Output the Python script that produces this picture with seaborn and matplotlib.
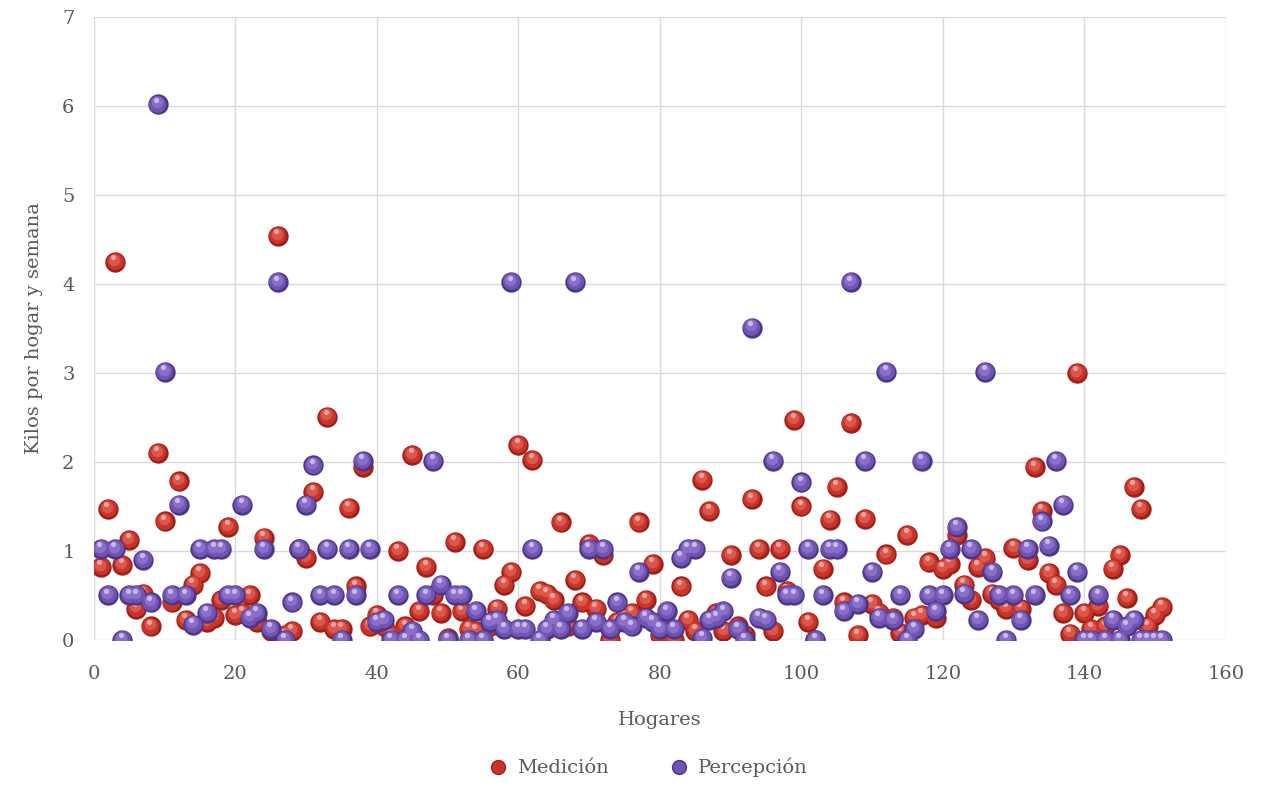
import matplotlib
matplotlib.use("Agg")
import matplotlib.pyplot as plt
import matplotlib.transforms as mtransforms
from matplotlib.lines import Line2D
import pandas as pd
import seaborn as sns

# Household index 1..151
hogares = list(range(1, 152))

medicion = [
    0.82, 1.47, 4.25, 0.84, 1.12, 0.35, 0.52, 0.15, 2.10, 1.33,
    0.42, 1.78, 0.22, 0.62, 0.75, 0.20, 0.25, 0.45, 1.27, 0.28,
    0.30, 0.50, 0.20, 1.15, 0.10, 4.54, 0.05, 0.10, 1.02, 0.92,
    1.66, 0.20, 2.51, 0.12, 0.12, 1.48, 0.60, 1.94, 0.15, 0.28,
    0.15, 0.05, 1.00, 0.15, 2.08, 0.32, 0.82, 0.50, 0.30, 0.02,
    1.10, 0.32, 0.12, 0.10, 1.02, 0.15, 0.35, 0.62, 0.76, 2.19,
    0.38, 2.02, 0.55, 0.52, 0.45, 1.32, 0.15, 0.67, 0.42, 1.08,
    0.35, 0.95, 0.00, 0.20, 0.25, 0.30, 1.32, 0.45, 0.85, 0.05,
    0.15, 0.00, 0.60, 0.22, 0.10, 1.80, 1.45, 0.30, 0.10, 0.95,
    0.15, 0.05, 1.58, 1.02, 0.60, 0.10, 1.02, 0.55, 2.47, 1.50,
    0.20, 0.00, 0.80, 1.35, 1.72, 0.42, 2.44, 0.05, 1.36, 0.40,
    0.30, 0.96, 0.25, 0.08, 1.18, 0.25, 0.28, 0.87, 0.25, 0.80,
    0.85, 1.18, 0.62, 0.45, 0.82, 0.92, 0.52, 0.45, 0.35, 1.03,
    0.35, 0.90, 1.94, 1.45, 0.75, 0.62, 0.30, 0.07, 3.00, 0.30,
    0.12, 0.38, 0.15, 0.80, 0.95, 0.47, 1.72, 1.47, 0.15, 0.28,
    0.37,
]

percepcion = [
    1.02, 0.50, 1.02, 0.00, 0.50, 0.50, 0.90, 0.42, 6.02, 3.01,
    0.50, 1.52, 0.50, 0.17, 1.02, 0.30, 1.02, 1.02, 0.50, 0.50,
    1.52, 0.25, 0.30, 1.02, 0.12, 4.02, 0.00, 0.42, 1.02, 1.52,
    1.96, 0.50, 1.02, 0.50, 0.00, 1.02, 0.50, 2.01, 1.02, 0.20,
    0.22, 0.00, 0.50, 0.00, 0.10, 0.00, 0.50, 2.01, 0.62, 0.00,
    0.50, 0.50, 0.00, 0.32, 0.00, 0.20, 0.22, 0.12, 4.02, 0.12,
    0.12, 1.02, 0.00, 0.12, 0.22, 0.12, 0.30, 4.02, 0.12, 1.02,
    0.20, 1.02, 0.12, 0.42, 0.20, 0.15, 0.76, 0.25, 0.20, 0.12,
    0.32, 0.12, 0.92, 1.02, 1.02, 0.02, 0.22, 0.25, 0.32, 0.70,
    0.12, 0.00, 3.51, 0.25, 0.22, 2.01, 0.76, 0.50, 0.50, 1.77,
    1.02, 0.00, 0.50, 1.02, 1.02, 0.32, 4.02, 0.40, 2.01, 0.76,
    0.25, 3.01, 0.22, 0.50, 0.00, 0.12, 2.01, 0.50, 0.32, 0.50,
    1.02, 1.27, 0.52, 1.02, 0.22, 3.01, 0.76, 0.50, 0.00, 0.50,
    0.22, 1.02, 0.50, 1.33, 1.06, 2.01, 1.52, 0.50, 0.76, 0.00,
    0.00, 0.50, 0.00, 0.22, 0.00, 0.15, 0.22, 0.00, 0.00, 0.00,
    0.00,
]

series_names = ["Medición", "Percepción"]
series_values = [medicion, percepcion]
base_colors = {"Medición": "#9E1F18", "Percepción": "#4E3588"}
mid_colors = {"Medición": "#C9342A", "Percepción": "#7054B2"}
light_colors = {"Medición": "#DE5A4F", "Percepción": "#8D72CC"}
shine_colors = {"Medición": "#F4B2AA", "Percepción": "#D4C8F2"}

df = pd.DataFrame({
    "Hogares": hogares * 2,
    "Kilos": medicion + percepcion,
    "Serie": [series_names[0]] * len(hogares) + [series_names[1]] * len(hogares),
})

sns.set_theme(style="whitegrid")
plt.rcParams["font.family"] = ["DejaVu Serif"]

TEXT = "#595959"
FS = 14

fig = plt.figure(figsize=(12.61, 7.85), dpi=100)
ax = fig.add_axes([0.0745, 0.185, 0.8975, 0.793])

# Each series: a base sphere with glossy shading layers on top
for name, vals in zip(series_names, series_values):
    sub = df[df["Serie"] == name]
    sns.scatterplot(data=sub, x="Hogares", y="Kilos", color=base_colors[name],
                    s=215, linewidth=0, legend=False, ax=ax, zorder=3)
    off1 = mtransforms.offset_copy(ax.transData, fig=fig, x=-0.3, y=0.6, units="points")
    ax.scatter(hogares, vals, s=150, color=mid_colors[name], linewidths=0,
               transform=off1, zorder=3)
    off2 = mtransforms.offset_copy(ax.transData, fig=fig, x=-0.7, y=1.6, units="points")
    ax.scatter(hogares, vals, s=70, color=light_colors[name], linewidths=0,
               transform=off2, zorder=3, alpha=0.9)
    off3 = mtransforms.offset_copy(ax.transData, fig=fig, x=-1.2, y=3.4, units="points")
    ax.scatter(hogares, vals, s=14, color=shine_colors[name], linewidths=0,
               transform=off3, zorder=3, alpha=0.85)

ax.set_xlim(0, 160)
ax.set_ylim(0, 7)
ax.set_xticks(range(0, 161, 20))
ax.set_yticks(range(0, 8))
ax.grid(True, color="#D9D9D9", linewidth=1.0)
for sp in ax.spines.values():
    sp.set_visible(False)
ax.tick_params(axis="both", colors=TEXT, labelsize=FS, length=0)
ax.tick_params(axis="x", pad=18)
ax.tick_params(axis="y", pad=14)

ax.set_xlabel("Hogares", fontsize=FS, color=TEXT, labelpad=20)
ax.set_ylabel("Kilos por hogar y semana", fontsize=FS, color=TEXT, labelpad=14)

handles = [
    Line2D([0], [0], marker="o", linestyle="", markersize=10,
           markerfacecolor=mid_colors[n], markeredgecolor=base_colors[n],
           markeredgewidth=1.0, label=n)
    for n in series_names
]
leg = fig.legend(handles=handles, loc="center", bbox_to_anchor=(0.51, 0.022),
                 ncol=2, frameon=False, fontsize=FS, handletextpad=0.0,
                 columnspacing=2.6)
for t in leg.get_texts():
    t.set_color(TEXT)

fig.savefig("out.png", dpi=100, facecolor="white")
